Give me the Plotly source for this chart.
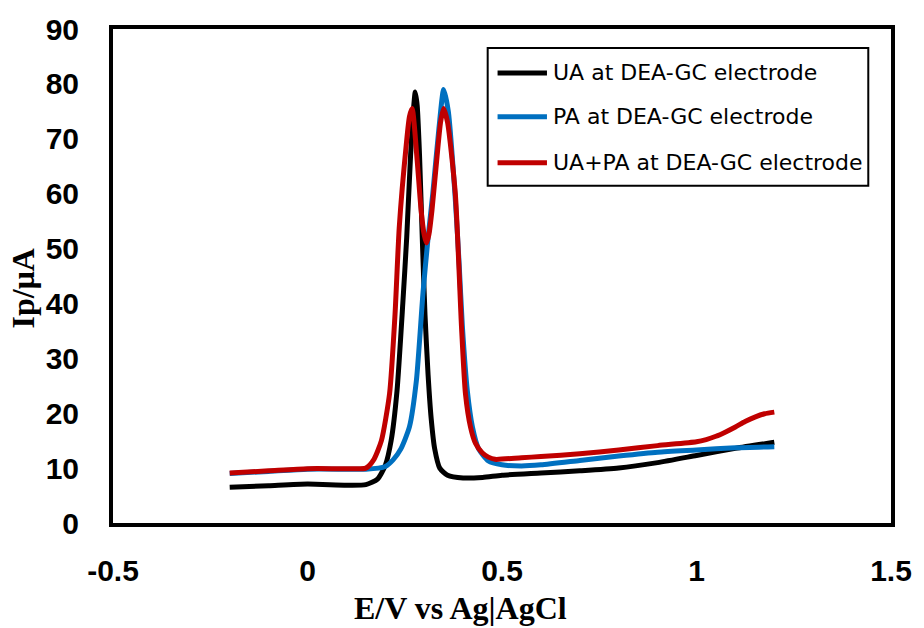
import plotly.graph_objects as go

# Differential pulse voltammograms on the DEA-modified glassy carbon electrode
ua_e = [-0.2, -0.1, 0.0, 0.1, 0.15, 0.18, 0.2, 0.215, 0.23, 0.245, 0.255, 0.265, 0.272,
        0.277, 0.282, 0.288, 0.295, 0.302, 0.31, 0.318, 0.327, 0.34, 0.36, 0.4, 0.45,
        0.5, 0.6, 0.7, 0.8, 0.9, 1.0, 1.1, 1.2]
ua_i = [6.5, 6.8, 7.1, 6.9, 7.0, 8.0, 10.5, 15.0, 24.0, 40.0, 52.0, 67.0, 75.0,
        78.5, 76.0, 67.0, 52.0, 38.0, 27.0, 19.0, 13.5, 10.0, 8.7, 8.2, 8.3,
        8.7, 9.1, 9.5, 10.0, 11.0, 12.3, 13.6, 14.7]

pa_e = [-0.2, -0.1, 0.0, 0.1, 0.15, 0.2, 0.22, 0.24, 0.262, 0.28, 0.297, 0.31, 0.322,
        0.338, 0.35, 0.362, 0.379, 0.39, 0.398, 0.411, 0.424, 0.44, 0.465, 0.5,
        0.55, 0.6, 0.7, 0.8, 0.9, 1.0, 1.1, 1.2]
pa_i = [9.0, 9.4, 9.8, 9.8, 9.8, 10.3, 11.5, 13.5, 17.5, 26.0, 42.0, 52.0, 60.0,
        72.0, 79.0, 75.0, 60.0, 47.0, 36.0, 24.0, 17.5, 13.5, 11.3, 10.6,
        10.4, 10.6, 11.4, 12.2, 12.9, 13.3, 13.7, 13.9]

mix_e = [-0.2, -0.1, 0.0, 0.1, 0.15, 0.17, 0.19, 0.211, 0.225, 0.236, 0.254, 0.262,
         0.269, 0.282, 0.292, 0.3, 0.306, 0.312, 0.32, 0.332, 0.342, 0.35, 0.36,
         0.38, 0.396, 0.406, 0.419, 0.432, 0.449, 0.465, 0.482, 0.55, 0.6, 0.7, 0.8,
         0.9, 1.0, 1.025, 1.05, 1.075, 1.1, 1.125, 1.15, 1.175, 1.2]
mix_i = [9.1, 9.5, 9.9, 9.9, 10.0, 11.5, 15.0, 23.6, 38.0, 54.0, 69.0, 74.0,
         75.5, 66.0, 57.0, 52.5, 51.0, 52.5, 57.0, 66.0, 73.0, 75.5, 73.0,
         60.0, 35.6, 23.6, 17.5, 14.5, 12.8, 12.0, 11.6, 11.9, 12.1, 12.6, 13.3,
         14.1, 14.8, 15.2, 15.8, 16.6, 17.5, 18.5, 19.3, 19.9, 20.2]

series_names = ["UA at DEA-GC electrode", "PA at DEA-GC electrode", "UA+PA at DEA-GC electrode"]
series_colors = ["#000000", "#0070C0", "#C00000"]

x_ticks = [-0.5, 0, 0.5, 1, 1.5]
x_tick_text = ["-0.5", "0", "0.5", "1", "1.5"]
y_ticks = [0, 10, 20, 30, 40, 50, 60, 70, 80, 90]

fig = go.Figure()
for e, i, name, color in zip([ua_e, pa_e, mix_e], [ua_i, pa_i, mix_i], series_names, series_colors):
    fig.add_trace(go.Scatter(x=e, y=i, mode="lines", name=name, showlegend=False,
                             line=dict(color=color, width=5, shape="spline", smoothing=0.6)))

tick_font = dict(family="Liberation Sans, Arial, sans-serif", size=30, color="#000000", weight="bold")
axis_common = dict(showline=True, linewidth=4, linecolor="#000000", mirror=True,
                   showgrid=False, zeroline=False, ticks="", tickfont=tick_font)

fig.update_xaxes(range=[-0.5, 1.5], tickvals=x_ticks, ticktext=x_tick_text,
                 ticklabelstandoff=18, **axis_common)
fig.update_yaxes(range=[0, 90], tickvals=y_ticks, ticklabelstandoff=24, **axis_common)

title_font = dict(family="Liberation Serif, Times New Roman, serif", size=32, color="#000000", weight="bold")
annotations = [
    dict(text="E/V vs Ag|AgCl", x=0.4473, y=-0.1717, xref="paper", yref="paper",
         showarrow=False, font=title_font, xanchor="center", yanchor="middle"),
    dict(text="Ip/μA", x=-0.1144, y=0.4747, xref="paper", yref="paper", textangle=-90,
         showarrow=False, font=title_font, xanchor="center", yanchor="middle"),
]

# Hand-built legend box
shapes = [dict(type="rect", xref="paper", yref="paper", x0=0.4816, x1=0.9708, y0=0.6828, y1=0.9616,
               line=dict(color="#000000", width=2), fillcolor="#FFFFFF")]
legend_rows = [0.9111, 0.8222, 0.7293]
legend_font = dict(family="DejaVu Sans, Verdana, sans-serif", size=22, color="#000000")
for row_y, name, color in zip(legend_rows, series_names, series_colors):
    shapes.append(dict(type="line", xref="paper", yref="paper", x0=0.4943, x1=0.5578,
                       y0=row_y, y1=row_y, line=dict(color=color, width=5)))
    annotations.append(dict(text=name, x=0.5629, y=row_y, xref="paper", yref="paper",
                            showarrow=False, font=legend_font, xanchor="left", yanchor="middle"))

fig.update_layout(width=924, height=628, margin=dict(l=113, r=24, t=28, b=105),
                  paper_bgcolor="#FFFFFF", plot_bgcolor="#FFFFFF",
                  shapes=shapes, annotations=annotations)

fig.write_html("out.html")
